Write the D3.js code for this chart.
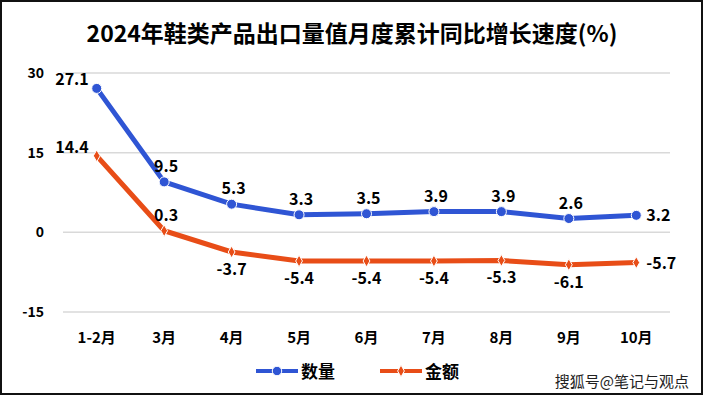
<!DOCTYPE html>
<html>
<head>
<meta charset="utf-8">
<script src="https://cdn.jsdelivr.net/npm/d3@7"></script>
<style>
  body { margin: 0; background: #fff; }
  svg text { font-family: "Noto Sans CJK SC", "Noto Sans", sans-serif; }
</style>
</head>
<body>
<div id="chart"></div>
<script>
const months = ["1-2月", "3月", "4月", "5月", "6月", "7月", "8月", "9月", "10月"];
const quantity = [27.1, 9.5, 5.3, 3.3, 3.5, 3.9, 3.9, 2.6, 3.2];
const amount = [14.4, 0.3, -3.7, -5.4, -5.4, -5.4, -5.3, -6.1, -5.7];
const yTicks = [-15, 0, 15, 30];

const width = 704;
const height = 396;
const marginLeft = 63;
const marginRight = 34;

const x = d3.scaleBand()
    .domain(months)
    .range([marginLeft, width - marginRight]);

const y = d3.scaleLinear()
    .domain([-15, 30])
    .range([312, 73]);

const svg = d3.select("#chart").append("svg")
    .attr("width", width)
    .attr("height", height);

svg.append("rect")
    .attr("x", 1).attr("y", 1)
    .attr("width", width - 3).attr("height", height - 3)
    .attr("fill", "#fff")
    .attr("stroke", "#111")
    .attr("stroke-width", 2);

svg.append("text")
    .attr("x", 352).attr("y", 42)
    .attr("text-anchor", "middle")
    .attr("font-size", 23)
    .attr("font-weight", "bold")
    .text("2024年鞋类产品出口量值月度累计同比增长速度(%)");

// grid
svg.append("g")
    .selectAll("line")
    .data(yTicks)
    .join("line")
    .attr("x1", marginLeft).attr("x2", width - marginRight)
    .attr("y1", d => y(d)).attr("y2", d => y(d))
    .attr("stroke", "#d9d9d9")
    .attr("stroke-width", 1.5);

svg.append("g")
    .selectAll("text")
    .data(yTicks)
    .join("text")
    .attr("x", 44)
    .attr("y", d => y(d) + 5)
    .attr("text-anchor", "end")
    .attr("font-size", 14)
    .attr("font-weight", "bold")
    .text(d => d);

svg.append("g")
    .selectAll("text")
    .data(months)
    .join("text")
    .attr("x", d => x(d) + x.bandwidth() / 2)
    .attr("y", 343)
    .attr("text-anchor", "middle")
    .attr("font-size", 15)
    .attr("font-weight", "bold")
    .text(d => d);

const cx = i => x(months[i]) + x.bandwidth() / 2;

const line = d3.line()
    .x((d, i) => cx(i))
    .y(d => y(d));

const blue = "#2f55d4";
const orange = "#e84d17";

svg.append("path")
    .datum(amount)
    .attr("fill", "none")
    .attr("stroke", orange)
    .attr("stroke-width", 5)
    .attr("d", line);

svg.append("path")
    .datum(quantity)
    .attr("fill", "none")
    .attr("stroke", blue)
    .attr("stroke-width", 5)
    .attr("d", line);

svg.append("g")
    .selectAll("path")
    .data(amount)
    .join("path")
    .attr("transform", (d, i) => `translate(${cx(i)},${y(d)})`)
    .attr("d", d3.symbol(d3.symbolDiamond, 40))
    .attr("fill", orange)
    .attr("stroke", "#fff")
    .attr("stroke-width", 1);

svg.append("g")
    .selectAll("circle")
    .data(quantity)
    .join("circle")
    .attr("cx", (d, i) => cx(i))
    .attr("cy", d => y(d))
    .attr("r", 5)
    .attr("fill", blue)
    .attr("stroke", "#fff")
    .attr("stroke-width", 1);

// value labels
function labelPos(i, n, above) {
    if (i === 0) return { dx: -8, dy: -3, anchor: "end" };
    if (i === n - 1) return { dx: 10, dy: 6, anchor: "start" };
    return above ? { dx: 2, dy: -10, anchor: "middle" } : { dx: 0, dy: 23, anchor: "middle" };
}

svg.append("g")
    .selectAll("text")
    .data(quantity)
    .join("text")
    .each(function(d, i) {
        const p = labelPos(i, quantity.length, true);
        d3.select(this)
            .attr("x", cx(i) + p.dx)
            .attr("y", y(d) + p.dy)
            .attr("text-anchor", p.anchor);
    })
    .attr("font-size", 16)
    .attr("font-weight", "bold")
    .text(d => d.toFixed(1));

svg.append("g")
    .selectAll("text")
    .data(amount)
    .join("text")
    .each(function(d, i) {
        const p = labelPos(i, amount.length, i === 1);
        d3.select(this)
            .attr("x", cx(i) + p.dx)
            .attr("y", y(d) + p.dy)
            .attr("text-anchor", p.anchor);
    })
    .attr("font-size", 16)
    .attr("font-weight", "bold")
    .text(d => d.toFixed(1));

// legend
const legend = [
    { name: "数量", color: blue, x: 256 },
    { name: "金额", color: orange, x: 380 }
];
const lg = svg.append("g")
    .selectAll("g")
    .data(legend)
    .join("g")
    .attr("transform", d => `translate(${d.x},371)`);
lg.append("line")
    .attr("x1", 0).attr("x2", 42)
    .attr("stroke", d => d.color)
    .attr("stroke-width", 4);
lg.append("path")
    .attr("transform", "translate(21,0)")
    .attr("d", (d, i) => d3.symbol(i === 0 ? d3.symbolCircle : d3.symbolDiamond, i === 0 ? 70 : 40)())
    .attr("fill", d => d.color)
    .attr("stroke", "#fff")
    .attr("stroke-width", 1);
lg.append("text")
    .attr("x", 45).attr("y", 7)
    .attr("font-size", 17)
    .attr("font-weight", "bold")
    .text(d => d.name);

svg.append("text")
    .attr("x", 689).attr("y", 387)
    .attr("text-anchor", "end")
    .attr("font-size", 15)
    .attr("fill", "#222")
    .text("搜狐号@笔记与观点");
</script>
</body>
</html>
